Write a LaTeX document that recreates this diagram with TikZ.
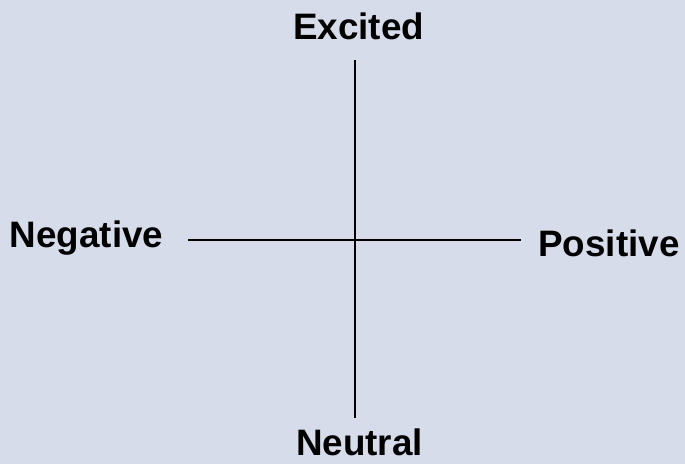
\documentclass[tikz,border=0pt]{standalone}
\usepackage{fontspec}
\setmainfont{Liberation Sans}
\usepackage{xcolor}
\usetikzlibrary{positioning}
\definecolor{bgblue}{HTML}{D6DCEA}
\begin{document}
\begin{tikzpicture}[
  x=0.75pt, y=-0.75pt,
  pole/.style = {font=\fontsize{27.6}{30}\selectfont\bfseries, inner sep=0pt,
                 anchor=base},
  axis/.style = {draw=black, line width=1.5pt},
]
  \fill[bgblue] (0,0) rectangle (685,464);
  \useasboundingbox (0,0) rectangle (685,464);

  \node[pole] (exc) at (358.5,39)  {Excited};
  \node[pole] (neu) at (359.5,455) {Neutral};
  \node[pole] (neg) at (86.5,247)  {Negative};
  \node[pole] (pos) at (609,256)   {Positive};

  \coordinate (top)   at (355,60);
  \coordinate (bot)   at (355,418);
  \coordinate (left)  at (188,240);
  \coordinate (right) at (521,240);
  \draw[axis] (top)  -- (bot);
  \draw[axis] (left) -- (right);
\end{tikzpicture}
\end{document}
